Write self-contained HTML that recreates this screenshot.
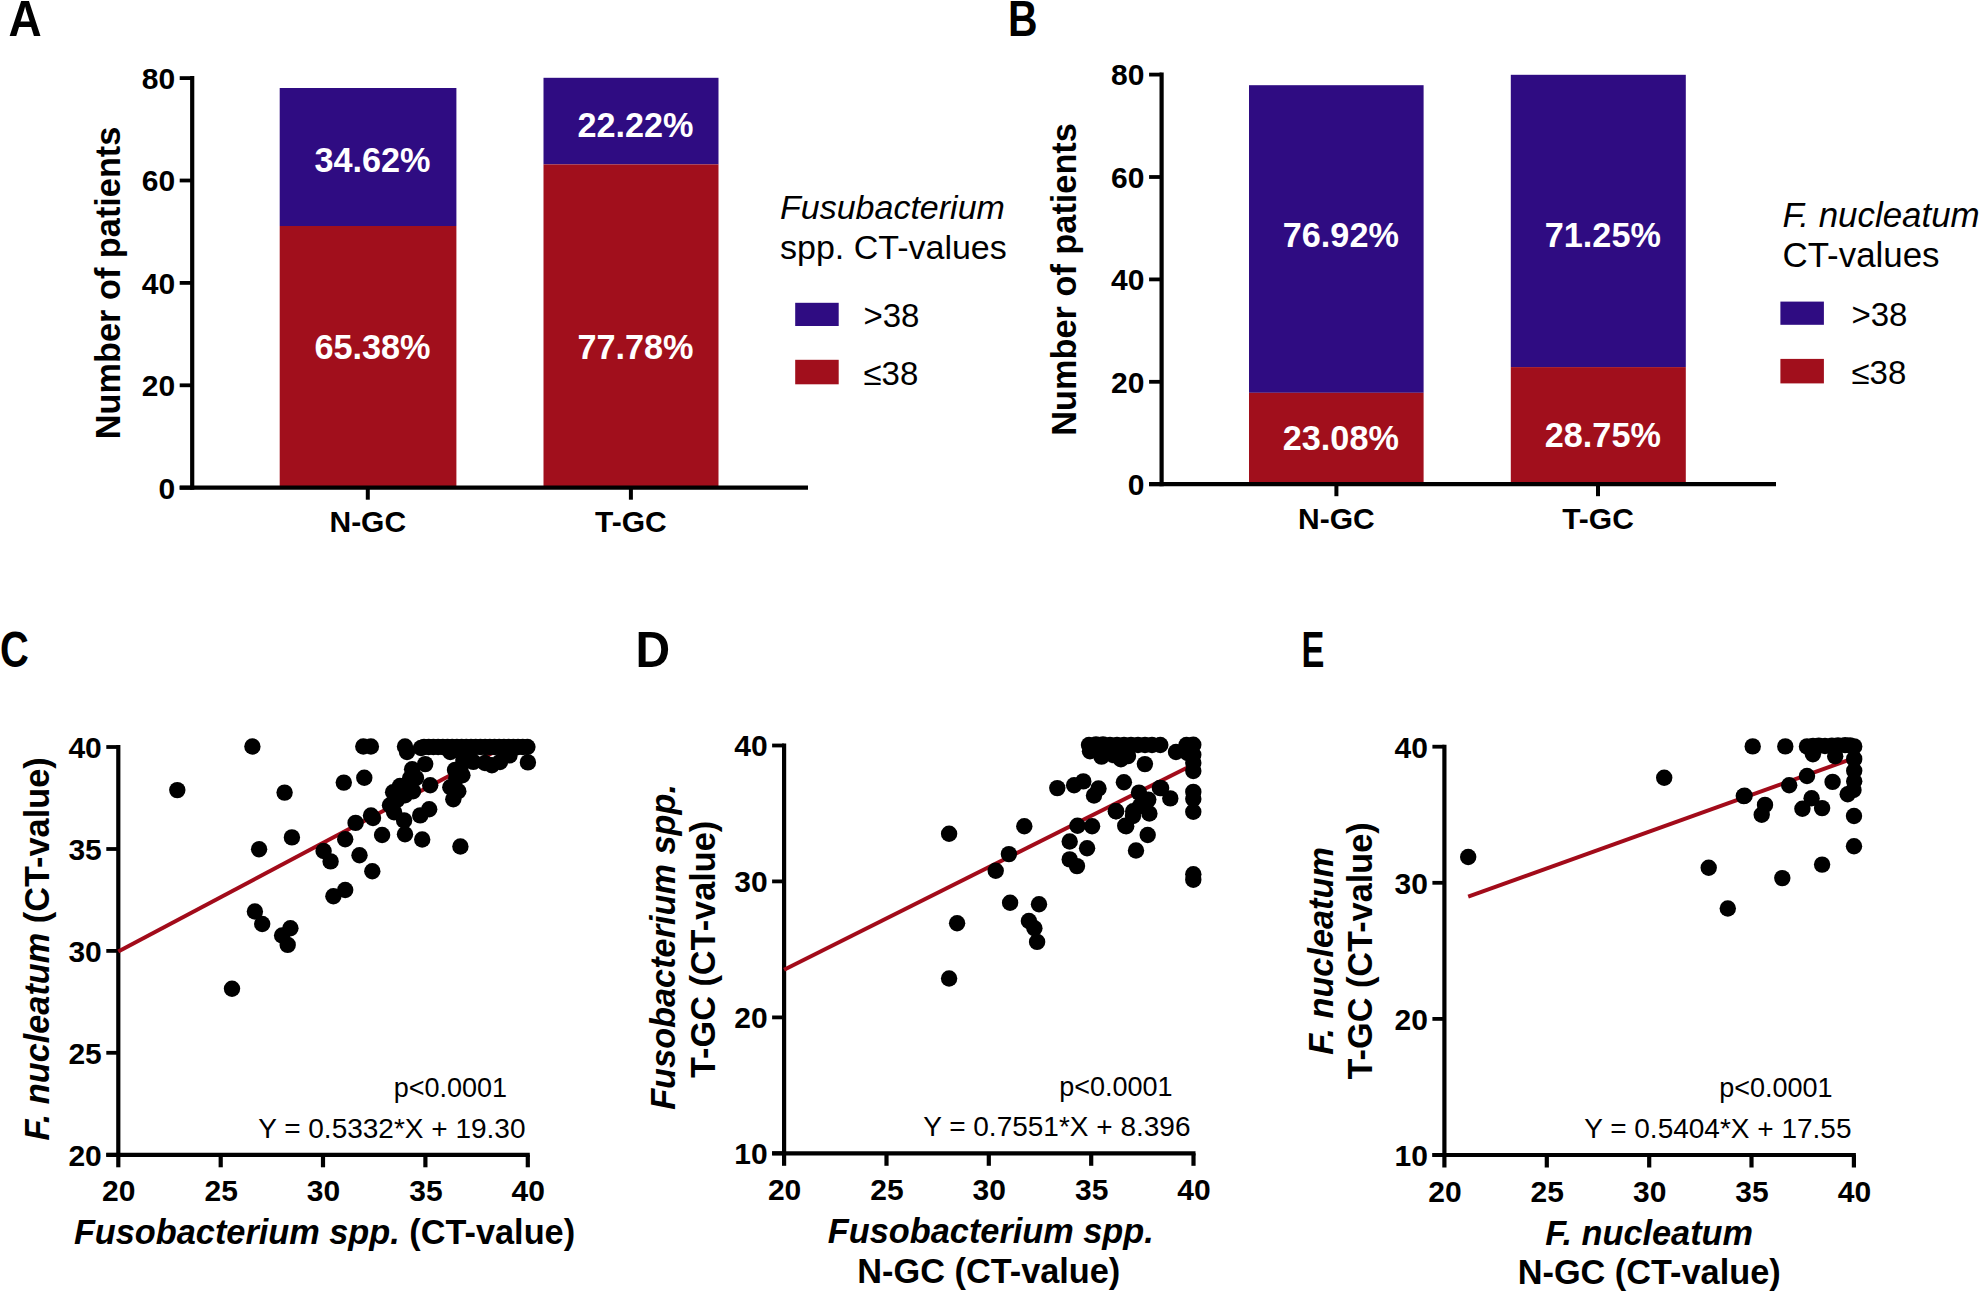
<!DOCTYPE html>
<html><head><meta charset="utf-8"><title>Figure</title>
<style>
html,body{margin:0;padding:0;background:#fff;}
body{width:1981px;height:1294px;overflow:hidden;}
svg{display:block;font-family:'Liberation Sans', Arial, Helvetica, sans-serif;}
</style></head>
<body>
<svg width="1981" height="1294" viewBox="0 0 1981 1294">
<rect x="0" y="0" width="1981" height="1294" fill="#fff"/>
<text transform="translate(8.5,35.9) scale(0.91,1)" font-size="50.5" font-weight="bold">A</text>
<text transform="translate(1008.1,35.9) scale(0.81,1)" font-size="50.5" font-weight="bold">B</text>
<text transform="translate(-0.1,666.6) scale(0.79,1)" font-size="50.5" font-weight="bold">C</text>
<text transform="translate(635.5,666.6) scale(0.95,1)" font-size="50.5" font-weight="bold">D</text>
<text transform="translate(1301.5,666.6) scale(0.68,1)" font-size="50.5" font-weight="bold">E</text>
<rect x="279.7" y="88.0" width="176.7" height="138.0" fill="#2f0c82"/>
<rect x="279.7" y="226.0" width="176.7" height="261.7" fill="#a10f1c"/>
<text transform="translate(372.5,172.4) scale(0.978,1)" font-size="35" font-weight="bold" text-anchor="middle" fill="#fff">34.62%</text>
<text transform="translate(372.5,358.5) scale(0.978,1)" font-size="35" font-weight="bold" text-anchor="middle" fill="#fff">65.38%</text>
<rect x="543.5" y="77.8" width="175.0" height="86.6" fill="#2f0c82"/>
<rect x="543.5" y="164.4" width="175.0" height="323.3" fill="#a10f1c"/>
<text transform="translate(635.5,137.0) scale(0.978,1)" font-size="35" font-weight="bold" text-anchor="middle" fill="#fff">22.22%</text>
<text transform="translate(635.5,358.5) scale(0.978,1)" font-size="35" font-weight="bold" text-anchor="middle" fill="#fff">77.78%</text>
<line x1="192.2" y1="76.1" x2="192.2" y2="489.7" stroke="#000" stroke-width="4.2"/>
<line x1="179.7" y1="487.7" x2="808.0" y2="487.7" stroke="#000" stroke-width="4.2"/>
<line x1="179.7" y1="487.7" x2="192.2" y2="487.7" stroke="#000" stroke-width="3.8"/>
<text x="175.2" y="498.5" font-size="30" font-weight="bold" font-style="normal" text-anchor="end" fill="#000">0</text>
<line x1="179.7" y1="385.3" x2="192.2" y2="385.3" stroke="#000" stroke-width="3.8"/>
<text x="175.2" y="396.1" font-size="30" font-weight="bold" font-style="normal" text-anchor="end" fill="#000">20</text>
<line x1="179.7" y1="282.9" x2="192.2" y2="282.9" stroke="#000" stroke-width="3.8"/>
<text x="175.2" y="293.7" font-size="30" font-weight="bold" font-style="normal" text-anchor="end" fill="#000">40</text>
<line x1="179.7" y1="180.5" x2="192.2" y2="180.5" stroke="#000" stroke-width="3.8"/>
<text x="175.2" y="191.3" font-size="30" font-weight="bold" font-style="normal" text-anchor="end" fill="#000">60</text>
<line x1="179.7" y1="78.1" x2="192.2" y2="78.1" stroke="#000" stroke-width="3.8"/>
<text x="175.2" y="88.9" font-size="30" font-weight="bold" font-style="normal" text-anchor="end" fill="#000">80</text>
<line x1="367.8" y1="487.7" x2="367.8" y2="499.7" stroke="#000" stroke-width="4"/>
<text x="367.8" y="532.2" font-size="30" font-weight="bold" font-style="normal" text-anchor="middle" fill="#000">N-GC</text>
<line x1="630.9" y1="487.7" x2="630.9" y2="499.7" stroke="#000" stroke-width="4"/>
<text x="630.9" y="532.2" font-size="30" font-weight="bold" font-style="normal" text-anchor="middle" fill="#000">T-GC</text>
<text transform="translate(120.3,282.9) rotate(-90)" font-size="34.3" font-weight="bold" text-anchor="middle">Number of patients</text>
<text x="780.0" y="218.8" font-size="34" font-style="italic">Fusubacterium</text>
<text x="780.0" y="258.6" font-size="34">spp. CT-values</text>
<rect x="795.2" y="302.8" width="43.5" height="23.2" fill="#2f0c82"/>
<rect x="795.2" y="359.8" width="43.5" height="24.5" fill="#a10f1c"/>
<text x="863.5" y="326.6" font-size="33" font-weight="normal" font-style="normal" text-anchor="start" fill="#000">&gt;38</text>
<text x="863.5" y="384.5" font-size="33" font-weight="normal" font-style="normal" text-anchor="start" fill="#000">&#8804;38</text>
<rect x="1249.0" y="85.2" width="174.6" height="307.6" fill="#2f0c82"/>
<rect x="1249.0" y="392.8" width="174.6" height="91.4" fill="#a10f1c"/>
<text transform="translate(1340.8,247.3) scale(0.978,1)" font-size="35" font-weight="bold" text-anchor="middle" fill="#fff">76.92%</text>
<text transform="translate(1340.8,450.2) scale(0.978,1)" font-size="35" font-weight="bold" text-anchor="middle" fill="#fff">23.08%</text>
<rect x="1510.8" y="74.8" width="175.0" height="292.3" fill="#2f0c82"/>
<rect x="1510.8" y="367.1" width="175.0" height="117.1" fill="#a10f1c"/>
<text transform="translate(1602.8,247.3) scale(0.978,1)" font-size="35" font-weight="bold" text-anchor="middle" fill="#fff">71.25%</text>
<text transform="translate(1602.8,446.5) scale(0.978,1)" font-size="35" font-weight="bold" text-anchor="middle" fill="#fff">28.75%</text>
<line x1="1161.6" y1="72.6" x2="1161.6" y2="486.2" stroke="#000" stroke-width="4.2"/>
<line x1="1149.1" y1="484.2" x2="1776.0" y2="484.2" stroke="#000" stroke-width="4.2"/>
<line x1="1149.1" y1="484.2" x2="1161.6" y2="484.2" stroke="#000" stroke-width="3.8"/>
<text x="1144.4" y="495.0" font-size="30" font-weight="bold" font-style="normal" text-anchor="end" fill="#000">0</text>
<line x1="1149.1" y1="381.8" x2="1161.6" y2="381.8" stroke="#000" stroke-width="3.8"/>
<text x="1144.4" y="392.6" font-size="30" font-weight="bold" font-style="normal" text-anchor="end" fill="#000">20</text>
<line x1="1149.1" y1="279.4" x2="1161.6" y2="279.4" stroke="#000" stroke-width="3.8"/>
<text x="1144.4" y="290.2" font-size="30" font-weight="bold" font-style="normal" text-anchor="end" fill="#000">40</text>
<line x1="1149.1" y1="177.0" x2="1161.6" y2="177.0" stroke="#000" stroke-width="3.8"/>
<text x="1144.4" y="187.8" font-size="30" font-weight="bold" font-style="normal" text-anchor="end" fill="#000">60</text>
<line x1="1149.1" y1="74.6" x2="1161.6" y2="74.6" stroke="#000" stroke-width="3.8"/>
<text x="1144.4" y="85.4" font-size="30" font-weight="bold" font-style="normal" text-anchor="end" fill="#000">80</text>
<line x1="1336.4" y1="484.2" x2="1336.4" y2="496.2" stroke="#000" stroke-width="4"/>
<text x="1336.4" y="528.7" font-size="30" font-weight="bold" font-style="normal" text-anchor="middle" fill="#000">N-GC</text>
<line x1="1598.0" y1="484.2" x2="1598.0" y2="496.2" stroke="#000" stroke-width="4"/>
<text x="1598.0" y="528.7" font-size="30" font-weight="bold" font-style="normal" text-anchor="middle" fill="#000">T-GC</text>
<text transform="translate(1076.3,279.4) rotate(-90)" font-size="34.3" font-weight="bold" text-anchor="middle">Number of patients</text>
<text x="1782.5" y="226.8" font-size="34.9" font-style="italic">F. nucleatum</text>
<text x="1782.5" y="267.1" font-size="34.9">CT-values</text>
<rect x="1780.4" y="301.6" width="43.5" height="23.2" fill="#2f0c82"/>
<rect x="1780.4" y="358.9" width="43.5" height="24.5" fill="#a10f1c"/>
<text x="1851.5" y="325.7" font-size="33" font-weight="normal" font-style="normal" text-anchor="start" fill="#000">&gt;38</text>
<text x="1851.5" y="384.3" font-size="33" font-weight="normal" font-style="normal" text-anchor="start" fill="#000">&#8804;38</text>
<line x1="118.3" y1="745.0" x2="118.3" y2="1156.8" stroke="#000" stroke-width="4.2"/>
<line x1="106.3" y1="1154.8" x2="529.8" y2="1154.8" stroke="#000" stroke-width="4.2"/>
<line x1="106.3" y1="747.0" x2="118.3" y2="747.0" stroke="#000" stroke-width="3.8"/>
<text x="101.8" y="757.8" font-size="30" font-weight="bold" font-style="normal" text-anchor="end" fill="#000">40</text>
<line x1="106.3" y1="849.0" x2="118.3" y2="849.0" stroke="#000" stroke-width="3.8"/>
<text x="101.8" y="859.8" font-size="30" font-weight="bold" font-style="normal" text-anchor="end" fill="#000">35</text>
<line x1="106.3" y1="950.9" x2="118.3" y2="950.9" stroke="#000" stroke-width="3.8"/>
<text x="101.8" y="961.7" font-size="30" font-weight="bold" font-style="normal" text-anchor="end" fill="#000">30</text>
<line x1="106.3" y1="1052.8" x2="118.3" y2="1052.8" stroke="#000" stroke-width="3.8"/>
<text x="101.8" y="1063.6" font-size="30" font-weight="bold" font-style="normal" text-anchor="end" fill="#000">25</text>
<line x1="106.3" y1="1154.8" x2="118.3" y2="1154.8" stroke="#000" stroke-width="3.8"/>
<text x="101.8" y="1165.6" font-size="30" font-weight="bold" font-style="normal" text-anchor="end" fill="#000">20</text>
<line x1="118.3" y1="1154.8" x2="118.3" y2="1167.3" stroke="#000" stroke-width="4.2"/>
<text x="118.8" y="1201.3" font-size="30" font-weight="bold" font-style="normal" text-anchor="middle" fill="#000">20</text>
<line x1="220.7" y1="1154.8" x2="220.7" y2="1167.3" stroke="#000" stroke-width="4.2"/>
<text x="221.2" y="1201.3" font-size="30" font-weight="bold" font-style="normal" text-anchor="middle" fill="#000">25</text>
<line x1="323.0" y1="1154.8" x2="323.0" y2="1167.3" stroke="#000" stroke-width="4.2"/>
<text x="323.5" y="1201.3" font-size="30" font-weight="bold" font-style="normal" text-anchor="middle" fill="#000">30</text>
<line x1="425.4" y1="1154.8" x2="425.4" y2="1167.3" stroke="#000" stroke-width="4.2"/>
<text x="425.9" y="1201.3" font-size="30" font-weight="bold" font-style="normal" text-anchor="middle" fill="#000">35</text>
<line x1="527.8" y1="1154.8" x2="527.8" y2="1167.3" stroke="#000" stroke-width="4.2"/>
<text x="528.3" y="1201.3" font-size="30" font-weight="bold" font-style="normal" text-anchor="middle" fill="#000">40</text>
<line x1="118.3" y1="951.6" x2="503.6" y2="747.0" stroke="#a20b1a" stroke-width="4.0"/>
<g fill="#000"><circle cx="252.4" cy="746.5" r="8.2"/><circle cx="363.3" cy="746.5" r="8.2"/><circle cx="370.9" cy="746.5" r="8.2"/><circle cx="405.0" cy="746.5" r="8.2"/><circle cx="424.0" cy="747.0" r="8.2"/><circle cx="428.7" cy="747.0" r="8.2"/><circle cx="433.4" cy="747.0" r="8.2"/><circle cx="438.1" cy="747.0" r="8.2"/><circle cx="442.8" cy="747.0" r="8.2"/><circle cx="447.5" cy="747.0" r="8.2"/><circle cx="452.2" cy="747.0" r="8.2"/><circle cx="456.9" cy="747.0" r="8.2"/><circle cx="461.6" cy="747.0" r="8.2"/><circle cx="466.3" cy="747.0" r="8.2"/><circle cx="471.0" cy="747.0" r="8.2"/><circle cx="475.7" cy="747.0" r="8.2"/><circle cx="480.4" cy="747.0" r="8.2"/><circle cx="485.1" cy="747.0" r="8.2"/><circle cx="489.8" cy="747.0" r="8.2"/><circle cx="494.5" cy="747.0" r="8.2"/><circle cx="499.2" cy="747.0" r="8.2"/><circle cx="503.9" cy="747.0" r="8.2"/><circle cx="508.6" cy="747.0" r="8.2"/><circle cx="513.3" cy="747.0" r="8.2"/><circle cx="518.0" cy="747.0" r="8.2"/><circle cx="522.7" cy="747.0" r="8.2"/><circle cx="527.4" cy="747.0" r="8.2"/><circle cx="421.0" cy="748.0" r="8.2"/><circle cx="397.0" cy="800.0" r="8.2"/><circle cx="462.4" cy="775.2" r="8.2"/><circle cx="455.0" cy="770.0" r="8.2"/><circle cx="416.0" cy="778.0" r="8.2"/><circle cx="400.0" cy="786.0" r="8.2"/><circle cx="407.0" cy="752.0" r="8.2"/><circle cx="450.3" cy="752.0" r="8.2"/><circle cx="509.5" cy="755.4" r="8.2"/><circle cx="473.3" cy="761.9" r="8.2"/><circle cx="491.9" cy="765.2" r="8.2"/><circle cx="485.0" cy="763.0" r="8.2"/><circle cx="500.0" cy="762.0" r="8.2"/><circle cx="527.9" cy="762.4" r="8.2"/><circle cx="465.4" cy="750.1" r="8.2"/><circle cx="463.4" cy="760.1" r="8.2"/><circle cx="425.2" cy="764.1" r="8.2"/><circle cx="412.1" cy="769.2" r="8.2"/><circle cx="460.4" cy="768.1" r="8.2"/><circle cx="177.3" cy="790.1" r="8.2"/><circle cx="284.6" cy="792.6" r="8.2"/><circle cx="291.9" cy="837.4" r="8.2"/><circle cx="259.1" cy="849.3" r="8.2"/><circle cx="254.9" cy="911.5" r="8.2"/><circle cx="262.2" cy="924.0" r="8.2"/><circle cx="290.4" cy="928.2" r="8.2"/><circle cx="282.1" cy="935.5" r="8.2"/><circle cx="287.7" cy="944.9" r="8.2"/><circle cx="232.0" cy="988.7" r="8.2"/><circle cx="343.8" cy="782.6" r="8.2"/><circle cx="364.3" cy="777.7" r="8.2"/><circle cx="355.6" cy="822.9" r="8.2"/><circle cx="371.0" cy="815.5" r="8.2"/><circle cx="373.0" cy="818.0" r="8.2"/><circle cx="345.2" cy="839.2" r="8.2"/><circle cx="323.6" cy="851.0" r="8.2"/><circle cx="330.6" cy="861.4" r="8.2"/><circle cx="359.5" cy="855.2" r="8.2"/><circle cx="372.3" cy="871.2" r="8.2"/><circle cx="345.2" cy="890.0" r="8.2"/><circle cx="333.4" cy="896.2" r="8.2"/><circle cx="382.1" cy="835.0" r="8.2"/><circle cx="405.0" cy="834.3" r="8.2"/><circle cx="422.2" cy="839.5" r="8.2"/><circle cx="460.4" cy="846.5" r="8.2"/><circle cx="410.1" cy="778.2" r="8.2"/><circle cx="393.1" cy="792.3" r="8.2"/><circle cx="390.0" cy="805.3" r="8.2"/><circle cx="394.1" cy="812.3" r="8.2"/><circle cx="405.1" cy="795.3" r="8.2"/><circle cx="413.1" cy="791.2" r="8.2"/><circle cx="430.2" cy="785.2" r="8.2"/><circle cx="404.1" cy="820.4" r="8.2"/><circle cx="420.2" cy="815.4" r="8.2"/><circle cx="429.2" cy="809.3" r="8.2"/><circle cx="453.3" cy="799.3" r="8.2"/><circle cx="458.3" cy="791.2" r="8.2"/><circle cx="450.3" cy="787.2" r="8.2"/><circle cx="456.3" cy="778.2" r="8.2"/></g>
<text x="507.0" y="1096.5" font-size="27" font-weight="normal" font-style="normal" text-anchor="end" fill="#000">p&lt;0.0001</text>
<text x="525.5" y="1137.6" font-size="28" font-weight="normal" font-style="normal" text-anchor="end" fill="#000">Y = 0.5332*X + 19.30</text>
<text transform="translate(48.5,948.9) rotate(-90)" font-size="34.3" font-weight="bold" text-anchor="middle"><tspan font-style="italic">F. nucleatum</tspan> (CT-value)</text>
<text x="324.5" y="1243.6" font-size="34.3" font-weight="bold" text-anchor="middle"><tspan font-style="italic">Fusobacterium spp.</tspan> (CT-value)</text>
<line x1="784.1" y1="743.5" x2="784.1" y2="1155.3" stroke="#000" stroke-width="4.2"/>
<line x1="772.1" y1="1153.3" x2="1195.5" y2="1153.3" stroke="#000" stroke-width="4.2"/>
<line x1="772.1" y1="745.5" x2="784.1" y2="745.5" stroke="#000" stroke-width="3.8"/>
<text x="767.6" y="756.3" font-size="30" font-weight="bold" font-style="normal" text-anchor="end" fill="#000">40</text>
<line x1="772.1" y1="881.4" x2="784.1" y2="881.4" stroke="#000" stroke-width="3.8"/>
<text x="767.6" y="892.2" font-size="30" font-weight="bold" font-style="normal" text-anchor="end" fill="#000">30</text>
<line x1="772.1" y1="1017.4" x2="784.1" y2="1017.4" stroke="#000" stroke-width="3.8"/>
<text x="767.6" y="1028.2" font-size="30" font-weight="bold" font-style="normal" text-anchor="end" fill="#000">20</text>
<line x1="772.1" y1="1153.3" x2="784.1" y2="1153.3" stroke="#000" stroke-width="3.8"/>
<text x="767.6" y="1164.1" font-size="30" font-weight="bold" font-style="normal" text-anchor="end" fill="#000">10</text>
<line x1="784.1" y1="1153.3" x2="784.1" y2="1165.8" stroke="#000" stroke-width="4.2"/>
<text x="784.6" y="1199.8" font-size="30" font-weight="bold" font-style="normal" text-anchor="middle" fill="#000">20</text>
<line x1="886.5" y1="1153.3" x2="886.5" y2="1165.8" stroke="#000" stroke-width="4.2"/>
<text x="887.0" y="1199.8" font-size="30" font-weight="bold" font-style="normal" text-anchor="middle" fill="#000">25</text>
<line x1="988.8" y1="1153.3" x2="988.8" y2="1165.8" stroke="#000" stroke-width="4.2"/>
<text x="989.3" y="1199.8" font-size="30" font-weight="bold" font-style="normal" text-anchor="middle" fill="#000">30</text>
<line x1="1091.2" y1="1153.3" x2="1091.2" y2="1165.8" stroke="#000" stroke-width="4.2"/>
<text x="1091.7" y="1199.8" font-size="30" font-weight="bold" font-style="normal" text-anchor="middle" fill="#000">35</text>
<line x1="1193.5" y1="1153.3" x2="1193.5" y2="1165.8" stroke="#000" stroke-width="4.2"/>
<text x="1194.0" y="1199.8" font-size="30" font-weight="bold" font-style="normal" text-anchor="middle" fill="#000">40</text>
<line x1="784.1" y1="969.8" x2="1193.5" y2="764.5" stroke="#a20b1a" stroke-width="4.0"/>
<g fill="#000"><circle cx="1089.0" cy="745.0" r="8.2"/><circle cx="1096.0" cy="744.5" r="8.2"/><circle cx="1103.0" cy="744.5" r="8.2"/><circle cx="1110.0" cy="745.0" r="8.2"/><circle cx="1117.0" cy="745.0" r="8.2"/><circle cx="1124.0" cy="745.0" r="8.2"/><circle cx="1131.0" cy="745.0" r="8.2"/><circle cx="1138.0" cy="745.0" r="8.2"/><circle cx="1145.0" cy="745.0" r="8.2"/><circle cx="1152.0" cy="745.0" r="8.2"/><circle cx="1160.3" cy="745.0" r="8.2"/><circle cx="1090.0" cy="751.3" r="8.2"/><circle cx="1101.5" cy="756.6" r="8.2"/><circle cx="1113.0" cy="755.0" r="8.2"/><circle cx="1120.9" cy="759.2" r="8.2"/><circle cx="1128.0" cy="756.0" r="8.2"/><circle cx="1144.9" cy="764.1" r="8.2"/><circle cx="1176.0" cy="752.0" r="8.2"/><circle cx="1186.5" cy="745.0" r="8.2"/><circle cx="1187.5" cy="753.0" r="8.2"/><circle cx="1193.3" cy="744.8" r="8.2"/><circle cx="1193.3" cy="754.7" r="8.2"/><circle cx="1193.3" cy="763.0" r="8.2"/><circle cx="1193.3" cy="771.0" r="8.2"/><circle cx="1123.9" cy="782.2" r="8.2"/><circle cx="1139.0" cy="792.6" r="8.2"/><circle cx="1159.9" cy="788.0" r="8.2"/><circle cx="1170.3" cy="798.4" r="8.2"/><circle cx="1148.3" cy="799.6" r="8.2"/><circle cx="1161.1" cy="788.1" r="8.2"/><circle cx="1115.8" cy="811.2" r="8.2"/><circle cx="1133.2" cy="811.2" r="8.2"/><circle cx="1149.4" cy="813.5" r="8.2"/><circle cx="1126.2" cy="826.3" r="8.2"/><circle cx="1147.7" cy="835.0" r="8.2"/><circle cx="1136.0" cy="850.5" r="8.2"/><circle cx="1193.3" cy="791.9" r="8.2"/><circle cx="1193.3" cy="811.7" r="8.2"/><circle cx="1193.3" cy="874.2" r="8.2"/><circle cx="1193.3" cy="879.8" r="8.2"/><circle cx="1057.3" cy="788.1" r="8.2"/><circle cx="1074.1" cy="785.2" r="8.2"/><circle cx="1083.3" cy="781.4" r="8.2"/><circle cx="1098.5" cy="788.5" r="8.2"/><circle cx="1094.0" cy="795.5" r="8.2"/><circle cx="1143.5" cy="801.3" r="8.2"/><circle cx="1133.0" cy="816.0" r="8.2"/><circle cx="1140.0" cy="806.0" r="8.2"/><circle cx="1193.3" cy="799.0" r="8.2"/><circle cx="1077.5" cy="825.8" r="8.2"/><circle cx="1092.1" cy="826.3" r="8.2"/><circle cx="1069.7" cy="841.5" r="8.2"/><circle cx="1087.1" cy="848.2" r="8.2"/><circle cx="1069.7" cy="859.4" r="8.2"/><circle cx="1077.0" cy="866.1" r="8.2"/><circle cx="1116.2" cy="811.2" r="8.2"/><circle cx="1125.2" cy="825.8" r="8.2"/><circle cx="949.1" cy="833.7" r="8.2"/><circle cx="1024.3" cy="826.3" r="8.2"/><circle cx="1008.9" cy="854.1" r="8.2"/><circle cx="995.7" cy="870.8" r="8.2"/><circle cx="1010.1" cy="902.8" r="8.2"/><circle cx="1039.0" cy="904.3" r="8.2"/><circle cx="957.1" cy="923.3" r="8.2"/><circle cx="1028.9" cy="921.0" r="8.2"/><circle cx="1034.4" cy="928.3" r="8.2"/><circle cx="1037.1" cy="941.9" r="8.2"/><circle cx="949.1" cy="978.5" r="8.2"/></g>
<text x="1172.5" y="1095.5" font-size="27" font-weight="normal" font-style="normal" text-anchor="end" fill="#000">p&lt;0.0001</text>
<text x="1190.5" y="1136.2" font-size="28" font-weight="normal" font-style="normal" text-anchor="end" fill="#000">Y = 0.7551*X + 8.396</text>
<text transform="translate(675.0,946.9) rotate(-90)" font-size="34.3" font-weight="bold" text-anchor="middle"><tspan font-style="italic">Fusobacterium spp.</tspan></text>
<text transform="translate(714.5,949.4) rotate(-90)" font-size="34.3" font-weight="bold" text-anchor="middle">T-GC (CT-value)</text>
<text x="990.8" y="1243.2" font-size="34.3" font-weight="bold" text-anchor="middle"><tspan font-style="italic">Fusobacterium spp.</tspan></text>
<text x="988.8" y="1282.5" font-size="34.3" font-weight="bold" text-anchor="middle">N-GC (CT-value)</text>
<line x1="1444.4" y1="744.7" x2="1444.4" y2="1157.0" stroke="#000" stroke-width="4.2"/>
<line x1="1432.4" y1="1155.0" x2="1855.9" y2="1155.0" stroke="#000" stroke-width="4.2"/>
<line x1="1432.4" y1="746.7" x2="1444.4" y2="746.7" stroke="#000" stroke-width="3.8"/>
<text x="1427.9" y="757.5" font-size="30" font-weight="bold" font-style="normal" text-anchor="end" fill="#000">40</text>
<line x1="1432.4" y1="882.8" x2="1444.4" y2="882.8" stroke="#000" stroke-width="3.8"/>
<text x="1427.9" y="893.6" font-size="30" font-weight="bold" font-style="normal" text-anchor="end" fill="#000">30</text>
<line x1="1432.4" y1="1018.9" x2="1444.4" y2="1018.9" stroke="#000" stroke-width="3.8"/>
<text x="1427.9" y="1029.7" font-size="30" font-weight="bold" font-style="normal" text-anchor="end" fill="#000">20</text>
<line x1="1432.4" y1="1155.0" x2="1444.4" y2="1155.0" stroke="#000" stroke-width="3.8"/>
<text x="1427.9" y="1165.8" font-size="30" font-weight="bold" font-style="normal" text-anchor="end" fill="#000">10</text>
<line x1="1444.4" y1="1155.0" x2="1444.4" y2="1167.5" stroke="#000" stroke-width="4.2"/>
<text x="1444.9" y="1201.5" font-size="30" font-weight="bold" font-style="normal" text-anchor="middle" fill="#000">20</text>
<line x1="1546.8" y1="1155.0" x2="1546.8" y2="1167.5" stroke="#000" stroke-width="4.2"/>
<text x="1547.3" y="1201.5" font-size="30" font-weight="bold" font-style="normal" text-anchor="middle" fill="#000">25</text>
<line x1="1649.2" y1="1155.0" x2="1649.2" y2="1167.5" stroke="#000" stroke-width="4.2"/>
<text x="1649.7" y="1201.5" font-size="30" font-weight="bold" font-style="normal" text-anchor="middle" fill="#000">30</text>
<line x1="1751.5" y1="1155.0" x2="1751.5" y2="1167.5" stroke="#000" stroke-width="4.2"/>
<text x="1752.0" y="1201.5" font-size="30" font-weight="bold" font-style="normal" text-anchor="middle" fill="#000">35</text>
<line x1="1853.9" y1="1155.0" x2="1853.9" y2="1167.5" stroke="#000" stroke-width="4.2"/>
<text x="1854.4" y="1201.5" font-size="30" font-weight="bold" font-style="normal" text-anchor="middle" fill="#000">40</text>
<line x1="1468.2" y1="896.6" x2="1853.9" y2="758.1" stroke="#a20b1a" stroke-width="4.0"/>
<g fill="#000"><circle cx="1468.2" cy="857.0" r="8.2"/><circle cx="1664.2" cy="777.7" r="8.2"/><circle cx="1743.8" cy="796.1" r="8.2"/><circle cx="1708.7" cy="867.8" r="8.2"/><circle cx="1727.8" cy="908.5" r="8.2"/><circle cx="1752.7" cy="746.4" r="8.2"/><circle cx="1785.3" cy="746.4" r="8.2"/><circle cx="1807.0" cy="746.4" r="8.2"/><circle cx="1818.8" cy="745.8" r="8.2"/><circle cx="1831.9" cy="745.8" r="8.2"/><circle cx="1845.1" cy="745.1" r="8.2"/><circle cx="1854.2" cy="746.4" r="8.2"/><circle cx="1812.9" cy="754.3" r="8.2"/><circle cx="1835.2" cy="756.3" r="8.2"/><circle cx="1813.0" cy="746.0" r="8.2"/><circle cx="1825.0" cy="746.0" r="8.2"/><circle cx="1838.0" cy="745.5" r="8.2"/><circle cx="1850.0" cy="745.5" r="8.2"/><circle cx="1853.5" cy="790.0" r="8.2"/><circle cx="1854.2" cy="758.9" r="8.2"/><circle cx="1854.2" cy="770.7" r="8.2"/><circle cx="1854.2" cy="781.2" r="8.2"/><circle cx="1807.0" cy="776.0" r="8.2"/><circle cx="1832.6" cy="781.9" r="8.2"/><circle cx="1789.2" cy="785.2" r="8.2"/><circle cx="1744.6" cy="795.7" r="8.2"/><circle cx="1847.7" cy="794.3" r="8.2"/><circle cx="1765.0" cy="804.9" r="8.2"/><circle cx="1761.7" cy="814.7" r="8.2"/><circle cx="1811.6" cy="798.3" r="8.2"/><circle cx="1802.4" cy="808.8" r="8.2"/><circle cx="1822.1" cy="808.1" r="8.2"/><circle cx="1854.0" cy="816.0" r="8.2"/><circle cx="1854.0" cy="846.2" r="8.2"/><circle cx="1822.1" cy="864.6" r="8.2"/><circle cx="1782.3" cy="878.1" r="8.2"/></g>
<text x="1832.5" y="1096.5" font-size="27" font-weight="normal" font-style="normal" text-anchor="end" fill="#000">p&lt;0.0001</text>
<text x="1851.5" y="1137.9" font-size="28" font-weight="normal" font-style="normal" text-anchor="end" fill="#000">Y = 0.5404*X + 17.55</text>
<text transform="translate(1333.0,950.9) rotate(-90)" font-size="34.3" font-weight="bold" text-anchor="middle"><tspan font-style="italic">F. nucleatum</tspan></text>
<text transform="translate(1372.0,950.9) rotate(-90)" font-size="34.3" font-weight="bold" text-anchor="middle">T-GC (CT-value)</text>
<text x="1649.2" y="1245.0" font-size="34.3" font-weight="bold" text-anchor="middle"><tspan font-style="italic">F. nucleatum</tspan></text>
<text x="1649.2" y="1284.0" font-size="34.3" font-weight="bold" text-anchor="middle">N-GC (CT-value)</text>
</svg>
</body></html>
